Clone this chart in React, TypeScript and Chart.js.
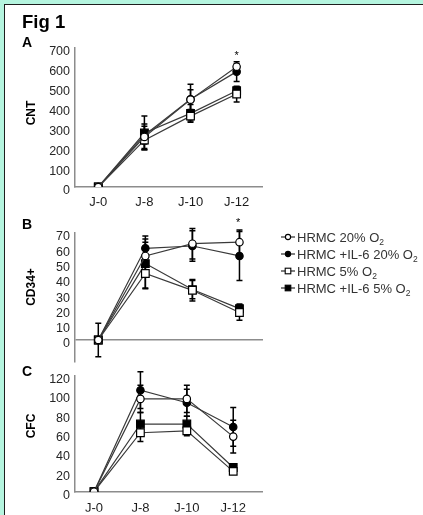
import React, { useEffect, useRef } from 'react';
import { Chart, registerables } from 'chart.js';

Chart.register(...registerables);
Chart.defaults.font.family = "'Liberation Sans', Arial, sans-serif";

// ---------- data ----------
const days = ['J-0', 'J-8', 'J-10', 'J-12'];
const seriesNames = ['HRMC 20% O', 'HRMC +IL-6 20% O', 'HRMC 5% O', 'HRMC +IL-6 5% O'];

// Panel A : CNT
const cntHrmc20 = [0, 252, 440, 606];
const cntIl6_20 = [0, 261, 442, 581];
const cntHrmc5 = [0, 236, 357, 468];
const cntIl6_5 = [0, 272, 371, 485];
const cntErrHrmc20 = [0, 65, 50, 15];
const cntErrIl6_20 = [0, 45, 75, 50];
const cntErrHrmc5 = [0, 42, 25, 40];
const cntErrIl6_5 = [0, 85, 45, 20];
const cntTicks = [0, 100, 200, 300, 400, 500, 600, 700];

// Panel B : CD34+
const cd34Hrmc20 = [0, 55, 63, 64];
const cd34Il6_20 = [0, 60, 61.5, 55];
const cd34Hrmc5 = [0, 43.5, 32.5, 18];
const cd34Il6_5 = [0, 50, 33, 20.5];
const cd34ErrHrmc20 = [0, 9, 10, 8];
const cd34ErrIl6_20 = [11, 8, 10, 16];
const cd34ErrHrmc5 = [0, 10, 7, 5];
const cd34ErrIl6_5 = [0, 16, 6, 3];
const cd34Ticks = [0, 10, 20, 30, 40, 50, 60, 70];

// Panel C : CFC
const cfcHrmc20 = [0, 96, 96, 57];
const cfcIl6_20 = [0, 105, 92, 67];
const cfcHrmc5 = [0, 61, 63, 21];
const cfcIl6_5 = [0, 70, 70, 25];
const cfcErrHrmc20 = [0, 14, 14, 17];
const cfcErrIl6_20 = [0, 19, 14, 20];
const cfcErrHrmc5 = [0, 9, 5, 2];
const cfcErrIl6_5 = [0, 12, 8, 2];
const cfcTicks = [0, 20, 40, 60, 80, 100, 120];

// ---------- styles ----------
const AXIS = '#8c8c8c';
const LINE = '#3a3a3a';
const markerStyles = [
  { pointStyle: 'circle', fill: '#ffffff', r: 3.7 },
  { pointStyle: 'circle', fill: '#000000', r: 3.7 },
  { pointStyle: 'rect', fill: '#ffffff', r: 5.4 },
  { pointStyle: 'rect', fill: '#000000', r: 5.4 },
];

const errorBarPlugin = {
  id: 'errorBars',
  beforeDatasetsDraw(chart: any) {
    const { ctx } = chart;
    const yScale = chart.scales.y;
    ctx.save();
    ctx.strokeStyle = '#000';
    ctx.lineWidth = 1.5;
    chart.data.datasets.forEach((ds: any, di: number) => {
      const meta = chart.getDatasetMeta(di);
      const errs: number[] = ds.errors || [];
      meta.data.forEach((pt: any, i: number) => {
        const e = errs[i];
        if (!e) return;
        const v = ds.data[i].y;
        const yTop = yScale.getPixelForValue(v + e);
        const yBot = yScale.getPixelForValue(v - e);
        const x = pt.x;
        ctx.beginPath();
        ctx.moveTo(x, yTop);
        ctx.lineTo(x, yBot);
        ctx.moveTo(x - 3, yTop);
        ctx.lineTo(x + 3, yTop);
        ctx.moveTo(x - 3, yBot);
        ctx.lineTo(x + 3, yBot);
        ctx.stroke();
      });
    });
    ctx.restore();
  },
};

type PanelCfg = {
  series: number[][];
  errors: number[][];
  ticks: number[];
  yMin: number;
  yMax: number;
  xMin: number;
  xMax: number;
  padTop: number;
  padBottom: number;
  padRight: number;
  xHeight: number;
  xPad: number;
  xBorder: boolean;
  zeroGrid: boolean;
};

function buildConfig(cfg: PanelCfg): any {
  const datasets = cfg.series.map((vals, si) => ({
    label: seriesNames[si],
    data: vals.map((v, i) => ({ x: i, y: v })),
    errors: cfg.errors[si],
    borderColor: LINE,
    borderWidth: 1.2,
    pointStyle: markerStyles[si].pointStyle,
    pointRadius: markerStyles[si].r,
    pointBackgroundColor: markerStyles[si].fill,
    pointBorderColor: '#000',
    pointBorderWidth: 1.2,
    fill: false,
    tension: 0,
  }));
  return {
    type: 'line',
    data: { datasets },
    plugins: [errorBarPlugin],
    options: {
      responsive: false,
      animation: false,
      layout: { padding: { top: cfg.padTop, bottom: cfg.padBottom, left: 0, right: cfg.padRight } },
      plugins: { legend: { display: false }, tooltip: { enabled: false } },
      scales: {
        x: {
          type: 'linear',
          min: cfg.xMin,
          max: cfg.xMax,
          afterBuildTicks: (s: any) => {
            s.ticks = days.map((_, i) => ({ value: i }));
          },
          afterFit: (s: any) => {
            s.height = cfg.xHeight;
          },
          ticks: {
            callback: (v: any) => days[v] ?? '',
            padding: cfg.xPad,
            color: '#1a1a1a',
            font: { size: 13 },
            maxRotation: 0,
            autoSkip: false,
          },
          grid: { display: false, drawTicks: false },
          border: { display: cfg.xBorder, color: AXIS, width: 1.5 },
        },
        y: {
          type: 'linear',
          min: cfg.yMin,
          max: cfg.yMax,
          afterBuildTicks: (s: any) => {
            s.ticks = cfg.ticks.map((v) => ({ value: v }));
          },
          afterFit: (s: any) => {
            s.width = 75;
          },
          ticks: { padding: 5, labelOffset: 4, color: '#262626', font: { size: 12.5 } },
          grid: {
            display: cfg.zeroGrid,
            drawTicks: false,
            lineWidth: 1.5,
            color: (c: any) => (c.tick && c.tick.value === 0 ? AXIS : 'rgba(0,0,0,0)'),
          },
          border: { display: true, color: AXIS, width: 1.5 },
        },
      },
    },
  };
}

const panelA: PanelCfg = {
  series: [cntHrmc20, cntIl6_20, cntHrmc5, cntIl6_5],
  errors: [cntErrHrmc20, cntErrIl6_20, cntErrHrmc5, cntErrIl6_5],
  ticks: cntTicks,
  yMin: 0, yMax: 700,
  xMin: -0.505, xMax: 3.55,
  padTop: 18, padBottom: 13, padRight: 161, xHeight: 20, xPad: 8,
  xBorder: true, zeroGrid: false,
};
const panelB: PanelCfg = {
  series: [cd34Hrmc20, cd34Il6_20, cd34Hrmc5, cd34Il6_5],
  errors: [cd34ErrHrmc20, cd34ErrIl6_20, cd34ErrHrmc5, cd34ErrIl6_5],
  ticks: cd34Ticks,
  yMin: -14, yMax: 70,
  xMin: -0.495, xMax: 3.5,
  padTop: 23, padBottom: 3.6, padRight: 160, xHeight: 10, xPad: -11.5,
  xBorder: false, zeroGrid: true,
};
const panelC: PanelCfg = {
  series: [cfcHrmc20, cfcIl6_20, cfcHrmc5, cfcIl6_5],
  errors: [cfcErrHrmc20, cfcErrIl6_20, cfcErrHrmc5, cfcErrIl6_5],
  ticks: cfcTicks,
  yMin: 0, yMax: 120,
  xMin: -0.41, xMax: 3.62,
  padTop: 15.7, padBottom: 3.3, padRight: 161, xHeight: 20, xPad: 9,
  xBorder: true, zeroGrid: false,
};

function Panel({ cfg, top, height }: { cfg: PanelCfg; top: number; height: number }) {
  const ref = useRef<HTMLCanvasElement | null>(null);
  useEffect(() => {
    if (!ref.current) return;
    const chart = new Chart(ref.current, buildConfig(cfg));
    return () => chart.destroy();
  }, [cfg]);
  return (
    <canvas
      ref={ref}
      width={423}
      height={height}
      style={{ position: 'absolute', left: 0, top, width: 423, height }}
    />
  );
}

function LegendMarker({ idx }: { idx: number }) {
  const m = markerStyles[idx];
  return (
    <svg width={15} height={10} style={{ display: 'block' }}>
      <line x1={0} y1={5} x2={14} y2={5} stroke={LINE} strokeWidth={1.3} />
      {m.pointStyle === 'circle' ? (
        <circle cx={7} cy={5} r={2.6} fill={m.fill} stroke="#000" strokeWidth={1.1} />
      ) : (
        <rect x={4.2} y={2.2} width={5.6} height={5.6} fill={m.fill} stroke="#000" strokeWidth={1.1} />
      )}
    </svg>
  );
}

const legendRowsY = [237, 254, 271, 288];

const labelStyle: React.CSSProperties = {
  position: 'absolute',
  fontFamily: "'Liberation Sans', Arial, sans-serif",
  fontWeight: 'bold',
  color: '#000',
  lineHeight: 1,
  whiteSpace: 'nowrap',
};

function RotTitle({ text, cx, cy }: { text: string; cx: number; cy: number }) {
  return (
    <div
      style={{
        ...labelStyle,
        fontSize: 12,
        left: cx,
        top: cy,
        transform: 'translate(-50%, -50%) rotate(-90deg)',
      }}
    >
      {text}
    </div>
  );
}

export default function App() {
  return (
    <div
      style={{
        position: 'absolute',
        left: 0,
        top: 0,
        width: 423,
        height: 515,
        background: '#b5f5df',
        overflow: 'hidden',
      }}
    >
      <div
        style={{
          position: 'absolute',
          left: 4,
          top: 4,
          right: 0,
          bottom: 0,
          background: '#ffffff',
          borderLeft: '1.5px solid #1e1e1e',
          borderTop: '1.5px solid #1e1e1e',
        }}
      />
      <Panel cfg={panelA} top={30} height={190} />
      <Panel cfg={panelB} top={210} height={165} />
      <Panel cfg={panelC} top={360} height={155} />

      <div style={{ ...labelStyle, fontSize: 18.5, left: 22, top: 13 }}>Fig 1</div>
      <div style={{ ...labelStyle, fontSize: 14, left: 22, top: 35 }}>A</div>
      <div style={{ ...labelStyle, fontSize: 14, left: 22, top: 217 }}>B</div>
      <div style={{ ...labelStyle, fontSize: 14, left: 22, top: 364 }}>C</div>

      <RotTitle text="CNT" cx={31} cy={113} />
      <RotTitle text="CD34+" cx={31} cy={287} />
      <RotTitle text="CFC" cx={31} cy={426} />

      <div style={{ ...labelStyle, fontWeight: 'normal', fontSize: 11, left: 234.5, top: 50 }}>*</div>
      <div style={{ ...labelStyle, fontWeight: 'normal', fontSize: 11, left: 236, top: 217 }}>*</div>

      {seriesNames.map((name, i) => (
        <div
          key={name}
          style={{
            position: 'absolute',
            left: 281,
            top: legendRowsY[i] - 8,
            height: 16,
            display: 'flex',
            alignItems: 'center',
            fontFamily: "'Liberation Sans', Arial, sans-serif",
            fontSize: 13,
            color: '#333',
            whiteSpace: 'nowrap',
          }}
        >
          <LegendMarker idx={i} />
          <span style={{ marginLeft: 1 }}>
            {name}
            <sub style={{ fontSize: 8.5, verticalAlign: -3, lineHeight: 0 }}>2</sub>
          </span>
        </div>
      ))}
    </div>
  );
}
